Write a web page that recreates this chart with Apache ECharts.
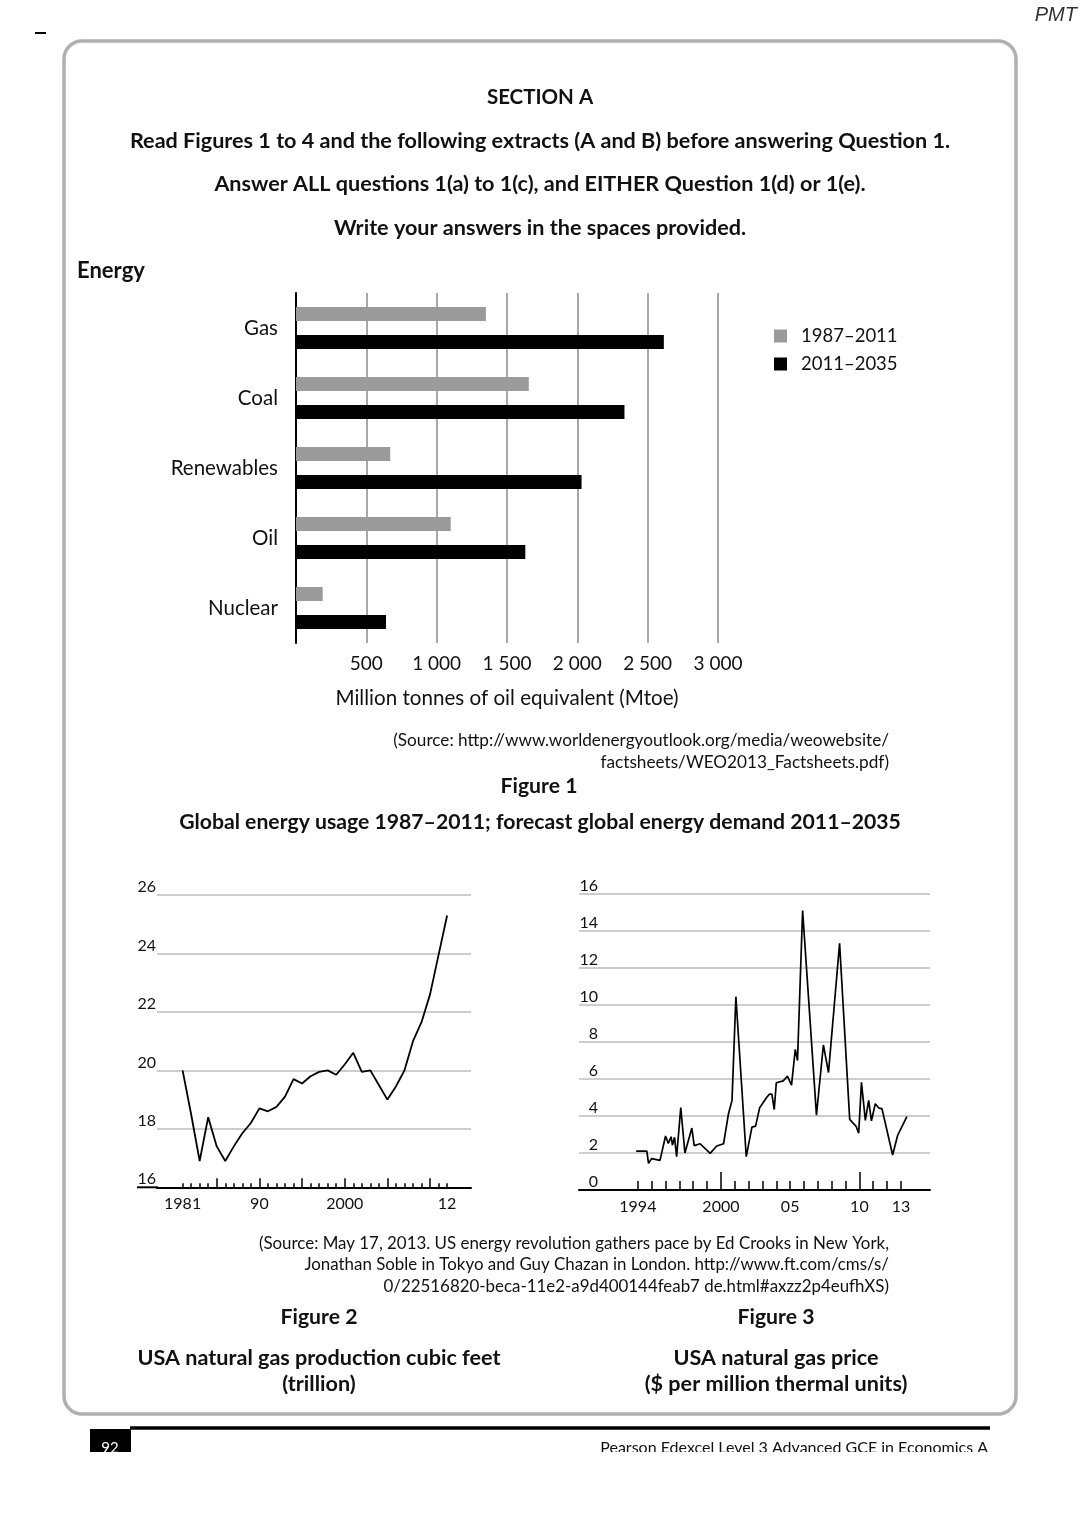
<!DOCTYPE html>
<html><head><meta charset="utf-8">
<script src="https://cdn.jsdelivr.net/npm/echarts@6/dist/echarts.min.js"></script>
<style>html,body{margin:0;padding:0;background:#fff}#c{width:1080px;height:1527px}</style>
</head><body><div id="c"></div><script>
// ---------- Figure 1 data ----------
const categories = ['Gas', 'Coal', 'Renewables', 'Oil', 'Nuclear'];
const seriesNames = ['1987–2011', '2011–2035'];
const usage1987to2011 = [1350, 1655, 670, 1100, 190];
const demand2011to2035 = [2615, 2335, 2030, 1630, 640];
const fig1TickLabels = ['', '500', '1 000', '1 500', '2 000', '2 500', '3 000'];

// ---------- Figure 2 data ----------
const gasYears = [1981,1982,1983,1984,1985,1986,1987,1988,1989,1990,1991,1992,1993,1994,1995,1996,1997,1998,1999,2000,2001,2002,2003,2004,2005,2006,2007,2008,2009,2010,2011,2012];
const gasProduction = [20.0,18.5,16.9,18.4,17.4,16.9,17.4,17.85,18.2,18.7,18.6,18.75,19.1,19.7,19.55,19.8,19.95,20.0,19.85,20.2,20.6,19.95,20.0,19.5,19.0,19.45,20.0,21.0,21.65,22.6,23.95,25.3];
const fig2TickYears = [1981,1982,1983,1984,1985,1986,1987,1988,1989,1990,1991,1992,1993,1994,1995,1996,1997,1998,1999,2000,2001,2002,2003,2004,2005,2006,2007,2008,2009,2010,2011,2012];
const fig2MajorTickYears = [1985,1990,1995,2000,2005,2010];
const fig2LabelYears = [1981, 1990, 2000, 2012];
const fig2LabelTexts = ['1981', '90', '2000', '12'];

// ---------- Figure 3 data ----------
const priceYears = [1993.88,1994.65,1994.77,1995.0,1995.6,1996.0,1996.2,1996.4,1996.5,1996.65,1996.8,1997.1,1997.4,1997.9,1998.07,1998.5,1999.22,1999.7,2000.19,2000.55,2000.8,2001.08,2001.83,2002.24,2002.5,2002.8,2003.3,2003.5,2003.68,2003.85,2004.0,2004.5,2004.8,2005.1,2005.37,2005.53,2005.9,2006.9,2007.4,2007.77,2007.9,2008.57,2009.3,2009.77,2009.95,2010.15,2010.43,2010.67,2010.87,2011.15,2011.4,2011.63,2012.4,2012.76,2013.43];
const priceValues = [2.1,2.1,1.44,1.7,1.6,2.92,2.52,2.88,2.43,2.85,1.8,4.45,2.0,3.35,2.4,2.5,1.98,2.38,2.5,4.14,4.83,10.45,1.8,3.4,3.45,4.45,5.0,5.18,5.18,4.35,5.8,5.9,6.15,5.67,7.6,7.0,15.1,4.05,7.84,6.35,6.4,13.33,3.82,3.43,3.07,5.82,3.76,4.84,3.74,4.66,4.43,4.4,1.89,2.95,3.96];
const fig3TickYears = [1994,1995,1996,1997,1998,1999,2000,2001,2002,2003,2004,2005,2006,2007,2008,2009,2010,2011,2012,2013];
const fig3MajorTickYears = [2000, 2010];
const fig3LabelYears = [1994, 2000, 2005, 2010, 2013];
const fig3LabelTexts = ['1994', '2000', '05', '10', '13'];

// ---------- styling ----------
const FONT = 'Lato, "Noto Sans", sans-serif';
const INK = '#111';
const HEAD = 21.6;

function txt(text, x, y, size, bold, align, fill) {
  return {
    type: 'text', z: 10,
    style: {
      text: text, x: x, y: y, fill: fill || INK,
      fontSize: size, fontFamily: FONT, fontWeight: bold ? 'bold' : 'normal',
      align: align || 'center', verticalAlign: 'middle',
      textAlign: align || 'center', textVerticalAlign: 'middle'
    }
  };
}
function pairs(xs, ys) { return xs.map((x, i) => [x, ys[i]]); }

const chart = echarts.init(document.getElementById('c'), null, { renderer: 'canvas' });

const option = {
  backgroundColor: '#fff',
  animation: false,
  textStyle: { fontFamily: FONT },
  legend: {
    data: seriesNames, orient: 'vertical', left: 769, top: 321,
    icon: 'rect', itemWidth: 13, itemHeight: 13, itemGap: 8,
    selectedMode: false,
    textStyle: { fontSize: 18.5, fontFamily: FONT, color: INK, lineHeight: 20, padding: [0, 0, 0, 9] }
  },
  grid: [
    { left: 296, top: 293, width: 422, height: 350 },
    { left: 157, top: 895, width: 314, height: 292.3 },
    { left: 579, top: 894, width: 351, height: 296 }
  ],
  xAxis: [
    { // fig 1
      gridIndex: 0, type: 'value', min: 0, max: 3000, interval: 500,
      axisLine: { show: false }, axisTick: { show: false },
      splitLine: { lineStyle: { color: '#a8a8a8', width: 2 } },
      axisLabel: { fontSize: 19, color: INK, margin: 11, fontFamily: FONT,
        formatter: v => fig1TickLabels[Math.round(v / 500)] },
      name: 'Million tonnes of oil equivalent (Mtoe)', nameLocation: 'middle', nameGap: 45,
      nameTextStyle: { fontSize: 20.6, color: INK, fontFamily: FONT }
    },
    { // fig 2 main
      gridIndex: 1, type: 'value', min: 1978, max: 2014.8, position: 'bottom',
      axisLine: { onZero: false, lineStyle: { color: '#000', width: 2 } },
      axisTick: { inside: true, length: 4, customValues: fig2TickYears, lineStyle: { color: '#000', width: 1.5 } },
      splitLine: { show: false },
      axisLabel: { fontSize: 16, color: INK, margin: 9, fontFamily: FONT, customValues: fig2LabelYears,
        formatter: v => fig2LabelTexts[fig2LabelYears.indexOf(Math.round(v))] }
    },
    { // fig 2 major ticks
      gridIndex: 1, type: 'value', min: 1978, max: 2014.8, position: 'bottom',
      axisLine: { show: false, onZero: false },
      axisTick: { inside: true, length: 9, customValues: fig2MajorTickYears, lineStyle: { color: '#000', width: 1.5 } },
      splitLine: { show: false }, axisLabel: { show: false }
    },
    { // fig 3 main
      gridIndex: 2, type: 'value', min: 1989.75, max: 2015.1, position: 'bottom',
      axisLine: { onZero: false, lineStyle: { color: '#000', width: 2 } },
      axisTick: { inside: true, length: 9, customValues: fig3TickYears, lineStyle: { color: '#000', width: 1.5 } },
      splitLine: { show: false },
      axisLabel: { fontSize: 16, color: INK, margin: 9, fontFamily: FONT, customValues: fig3LabelYears,
        formatter: v => fig3LabelTexts[fig3LabelYears.indexOf(Math.round(v))] }
    },
    { // fig 3 major ticks
      gridIndex: 2, type: 'value', min: 1989.75, max: 2015.1, position: 'bottom',
      axisLine: { show: false, onZero: false },
      axisTick: { inside: true, length: 18, customValues: fig3MajorTickYears, lineStyle: { color: '#000', width: 1.5 } },
      splitLine: { show: false }, axisLabel: { show: false }
    }
  ],
  yAxis: [
    {
      gridIndex: 0, type: 'category', data: categories, inverse: true,
      axisLine: { lineStyle: { color: '#000', width: 2 } }, axisTick: { show: false },
      axisLabel: { fontSize: 20.5, color: INK, margin: 18, fontFamily: FONT }
    },
    {
      gridIndex: 1, type: 'value', min: 16, max: 26, interval: 2,
      axisLine: { show: false }, axisTick: { show: false },
      splitLine: { lineStyle: { color: '#bdbdbd', width: 1.5 } },
      axisLabel: { fontSize: 16, color: INK, margin: 1, verticalAlign: 'bottom', fontFamily: FONT }
    },
    {
      gridIndex: 2, type: 'value', min: 0, max: 16, interval: 2,
      axisLine: { show: false }, axisTick: { show: false },
      splitLine: { lineStyle: { color: '#bdbdbd', width: 1.5 } },
      axisLabel: { inside: true, align: 'right', fontSize: 16, color: INK, margin: 19, verticalAlign: 'bottom', fontFamily: FONT }
    }
  ],
  series: [
    { name: seriesNames[0], type: 'bar', xAxisIndex: 0, yAxisIndex: 0, data: usage1987to2011,
      barWidth: 14, barGap: '100%', itemStyle: { color: '#9b9b9b' } },
    { name: seriesNames[1], type: 'bar', xAxisIndex: 0, yAxisIndex: 0, data: demand2011to2035,
      barWidth: 14, barGap: '100%', itemStyle: { color: '#000' } },
    { type: 'line', xAxisIndex: 1, yAxisIndex: 1, data: pairs(gasYears, gasProduction),
      showSymbol: false, symbol: 'none', lineStyle: { color: '#000', width: 1.8 } },
    { type: 'line', xAxisIndex: 3, yAxisIndex: 2, data: pairs(priceYears, priceValues),
      showSymbol: false, symbol: 'none', lineStyle: { color: '#000', width: 1.7 } }
  ],
  graphic: [
    { type: 'rect', z: 1, shape: { x: 64, y: 41, width: 952, height: 1373, r: 18 },
      style: { fill: 'none', stroke: '#b0b0b0', lineWidth: 3.5 } },
    { type: 'text', z: 10, style: { text: 'PMT', x: 1077, y: 15, fill: '#333', fontSize: 20, fontStyle: 'italic',
      fontFamily: '"Liberation Sans", Arial, sans-serif', align: 'right', verticalAlign: 'middle', textAlign: 'right', textVerticalAlign: 'middle' } },
    { type: 'line', z: 10, shape: { x1: 35, y1: 33, x2: 46, y2: 33 }, style: { stroke: '#000', lineWidth: 2 } },
    txt('SECTION A', 540, 97, 20.5, true),
    txt('Read Figures 1 to 4 and the following extracts (A and B) before answering Question 1.', 540, 141, HEAD, true),
    txt('Answer ALL questions 1(a) to 1(c), and EITHER Question 1(d) or 1(e).', 540, 184, HEAD, true),
    txt('Write your answers in the spaces provided.', 540, 228, HEAD, true),
    txt('Energy', 77, 271, 22, true, 'left'),
    txt('(Source: http://www.worldenergyoutlook.org/media/weowebsite/', 889, 740, 17.2, false, 'right'),
    txt('factsheets/WEO2013_Factsheets.pdf)', 889, 762, 17.2, false, 'right'),
    txt('Figure 1', 539, 786, 21.2, true),
    txt('Global energy usage 1987–2011; forecast global energy demand 2011–2035', 540, 822, 21.2, true),
    txt('(Source: May 17, 2013. US energy revolution gathers pace by Ed Crooks in New York,', 889, 1244, 16.9, false, 'right'),
    txt('Jonathan Soble in Tokyo and Guy Chazan in London. http://www.ft.com/cms/s/', 889, 1265, 16.9, false, 'right'),
    txt('0/22516820-beca-11e2-a9d400144feab7 de.html#axzz2p4eufhXS)', 889, 1287, 16.9, false, 'right'),
    txt('Figure 2', 319, 1317, 21.2, true),
    txt('Figure 3', 776, 1317, 21.2, true),
    txt('USA natural gas production cubic feet', 319, 1358, HEAD, true),
    txt('(trillion)', 319, 1384, HEAD, true),
    txt('USA natural gas price', 776, 1358, HEAD, true),
    txt('($ per million thermal units)', 776, 1384, HEAD, true),
    { type: 'line', z: 10, shape: { x1: 137, y1: 1187.3, x2: 158, y2: 1187.3 }, style: { stroke: '#000', lineWidth: 2 } },
    { type: 'line', z: 10, shape: { x1: 130, y1: 1428, x2: 990, y2: 1428 }, style: { stroke: '#000', lineWidth: 3.5 } },
    { type: 'rect', z: 10, shape: { x: 90, y: 1429, width: 41, height: 24 }, style: { fill: '#000' } },
    txt('92', 110, 1448, 15, false, 'center', '#fff'),
    txt('Pearson Edexcel Level 3 Advanced GCE in Economics A', 988, 1448, 16, false, 'right'),
    { type: 'rect', z: 20, shape: { x: 0, y: 1452, width: 1080, height: 75 }, style: { fill: '#fff' } }
  ]
};
chart.setOption(option);
</script></body></html>
